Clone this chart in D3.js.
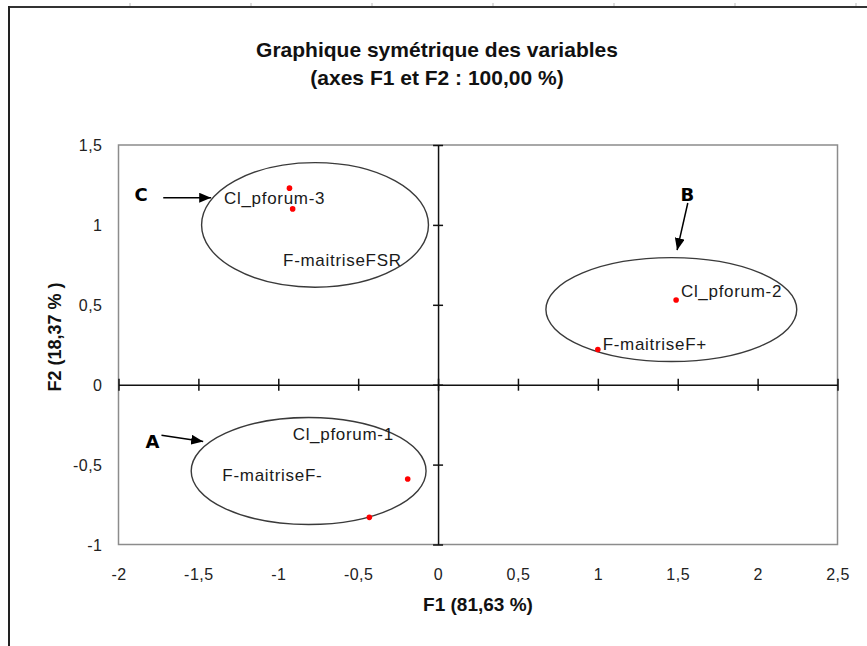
<!DOCTYPE html>
<html>
<head>
<meta charset="utf-8">
<script src="https://cdn.jsdelivr.net/npm/d3@7"></script>
<style>
  html, body { margin: 0; padding: 0; background: #fff; }
  svg { display: block; }
  text { font-family: "Liberation Sans", Arial, sans-serif; }
</style>
</head>
<body>
<svg id="chart" width="867" height="646"></svg>
<script>
// ---------------- data ----------------
const titleLines = ["Graphique symétrique des variables", "(axes F1 et F2 : 100,00 %)"];
const xAxisTitle = "F1 (81,63 %)";
const yAxisTitle = "F2 (18,37 % )";

const xTicks = [-2, -1.5, -1, -0.5, 0, 0.5, 1, 1.5, 2, 2.5];
const yTicks = [-1, -0.5, 0, 0.5, 1, 1.5];

// observed points (F1, F2)
const pointNames = ["Cl_pforum-3", "F-maitriseFSR", "Cl_pforum-2", "F-maitriseF+", "Cl_pforum-1", "F-maitriseF-"];
const pointF1 = [-0.93, -0.91, 1.49, 1.00, -0.19, -0.43];
const pointF2 = [1.23, 1.10, 0.53, 0.22, -0.59, -0.83];
// label anchors (F1, F2) as placed on the original chart
const labelF1 = [-1.34, -0.97, 1.52, 1.03, -0.91, -1.35];
const labelF2 = [1.13, 0.74, 0.55, 0.215, -0.345, -0.60];

// group ellipses (centre and semi-axes in F1/F2 units)
const groupNames = ["A", "B", "C"];
const groupCx = [-0.81, 1.46, -0.77];
const groupCy = [-0.54, 0.47, 1.00];
const groupRx = [0.735, 0.785, 0.71];
const groupRy = [0.335, 0.325, 0.39];
// group letter positions and arrows (F1/F2 units)
const letterF1 = [-1.787, 1.561, -1.859];
const letterF2 = [-0.355, 1.187, 1.187];
const arrowFromF1 = [-1.731, 1.563, -1.720];
const arrowFromF2 = [-0.317, 1.137, 1.170];
const arrowToF1 = [-1.470, 1.496, -1.420];
const arrowToF2 = [-0.355, 0.842, 1.170];

// ---------------- drawing ----------------
const svg = d3.select("#chart");
const plot = {left: 118.5, right: 837.5, top: 145, bottom: 544.5};

const x = d3.scaleLinear().domain([-2, 2.5]).range([plot.left, plot.right]);
const y = d3.scaleLinear().domain([-1, 1.5]).range([plot.bottom, plot.top]);
const fmt = d => String(d).replace(".", ",");

// spreadsheet frame remnants
svg.append("line").attr("x1", 9).attr("x2", 867).attr("y1", 7).attr("y2", 7)
  .attr("stroke", "#333").attr("stroke-width", 2);
svg.append("line").attr("x1", 9).attr("x2", 9).attr("y1", 6).attr("y2", 646)
  .attr("stroke", "#222").attr("stroke-width", 2);
svg.selectAll("line.grid").data(d3.range(130, 867, 121)).enter().append("line")
  .attr("class", "grid")
  .attr("x1", d => d).attr("x2", d => d).attr("y1", 3).attr("y2", 6)
  .attr("stroke", "#bbb").attr("stroke-width", 1);

// title
svg.append("text")
  .attr("x", 437).attr("y", 57)
  .attr("text-anchor", "middle")
  .style("font-size", "21px").style("font-weight", "bold").attr("fill", "#111")
  .selectAll("tspan").data(titleLines).enter().append("tspan")
  .attr("x", 437).attr("dy", (d, i) => i === 0 ? 0 : 28)
  .text(d => d);

// plot area border
svg.append("rect")
  .attr("x", plot.left).attr("y", plot.top)
  .attr("width", plot.right - plot.left).attr("height", plot.bottom - plot.top)
  .attr("fill", "none").attr("stroke", "#8c8c8c").attr("stroke-width", 1.5);

// central axes with crossing ticks
const xAxisG = svg.append("g").attr("transform", `translate(0,${y(0)})`)
  .call(d3.axisBottom(x).tickValues(xTicks).tickFormat("").tickSizeOuter(0).tickSizeInner(6));
xAxisG.select(".domain").attr("stroke", "#111").attr("stroke-width", 1.5);
xAxisG.selectAll(".tick line").attr("y1", -6).attr("y2", 6).attr("stroke", "#111").attr("stroke-width", 1.5);

const yAxisG = svg.append("g").attr("transform", `translate(${x(0)},0)`)
  .call(d3.axisLeft(y).tickValues(yTicks).tickFormat("").tickSizeOuter(0).tickSizeInner(5));
yAxisG.select(".domain").attr("stroke", "#111").attr("stroke-width", 1.5);
yAxisG.selectAll(".tick line").attr("x1", -5).attr("x2", 5).attr("stroke", "#111").attr("stroke-width", 1.5);

// tick labels at plot edges
const xLab = svg.append("g").attr("transform", `translate(0,${plot.bottom})`)
  .call(d3.axisBottom(x).tickValues(xTicks).tickFormat(fmt).tickSize(0));
xLab.select(".domain").remove();
xLab.selectAll("text").attr("y", 35).attr("dy", 0)
  .style("font-size", "16px").style("letter-spacing", "0.5px")
  .style("font-family", "'Liberation Sans', Arial, sans-serif").attr("fill", "#222");

const yLab = svg.append("g").attr("transform", `translate(${plot.left},0)`)
  .call(d3.axisLeft(y).tickValues(yTicks).tickFormat(fmt).tickSize(0));
yLab.select(".domain").remove();
yLab.selectAll("text").attr("x", -16).attr("dy", "0.36em")
  .style("font-size", "16px").style("letter-spacing", "0.5px")
  .style("font-family", "'Liberation Sans', Arial, sans-serif").attr("fill", "#222");

// axis titles
svg.append("text")
  .attr("x", (plot.left + plot.right) / 2).attr("y", 611)
  .attr("text-anchor", "middle")
  .style("font-size", "19px").style("font-weight", "bold").attr("fill", "#111")
  .text(xAxisTitle);
svg.append("text")
  .attr("transform", `translate(61,${337}) rotate(-90)`)
  .attr("text-anchor", "middle")
  .style("font-size", "18px").style("font-weight", "bold").attr("fill", "#111")
  .text(yAxisTitle);

// ellipses
const groups = groupNames.map((g, i) => ({
  name: g, cx: groupCx[i], cy: groupCy[i], rx: groupRx[i], ry: groupRy[i],
  lx: letterF1[i], ly: letterF2[i],
  ax1: arrowFromF1[i], ay1: arrowFromF2[i], ax2: arrowToF1[i], ay2: arrowToF2[i]
}));
svg.selectAll("ellipse.grp").data(groups).enter().append("ellipse")
  .attr("class", "grp")
  .attr("cx", d => x(d.cx)).attr("cy", d => y(d.cy))
  .attr("rx", d => x(d.rx) - x(0)).attr("ry", d => y(0) - y(d.ry))
  .attr("fill", "none").attr("stroke", "#3a3a3a").attr("stroke-width", 1.4);

// points
const pts = pointNames.map((n, i) => ({name: n, f1: pointF1[i], f2: pointF2[i], lf1: labelF1[i], lf2: labelF2[i]}));
svg.selectAll("text.lbl").data(pts).enter().append("text")
  .attr("class", "lbl")
  .attr("x", d => x(d.lf1)).attr("y", d => y(d.lf2))
  .style("font-size", "17px").style("letter-spacing", "0.7px").attr("fill", "#1a1a1a")
  .text(d => d.name);
svg.selectAll("circle.pt").data(pts).enter().append("circle")
  .attr("class", "pt")
  .attr("cx", d => x(d.f1)).attr("cy", d => y(d.f2)).attr("r", 2.8)
  .attr("fill", "#ff0000");

// arrows + letters
svg.append("defs").append("marker")
  .attr("id", "arrow").attr("viewBox", "0 0 12 10")
  .attr("refX", 12).attr("refY", 5)
  .attr("markerWidth", 12).attr("markerHeight", 10)
  .attr("markerUnits", "userSpaceOnUse").attr("orient", "auto")
  .append("path").attr("d", "M0,0 L12,5 L0,10 Z").attr("fill", "#000");

svg.selectAll("line.arr").data(groups).enter().append("line")
  .attr("class", "arr")
  .attr("x1", d => x(d.ax1)).attr("y1", d => y(d.ay1))
  .attr("x2", d => x(d.ax2)).attr("y2", d => y(d.ay2))
  .attr("stroke", "#000").attr("stroke-width", 1.5)
  .attr("marker-end", "url(#arrow)");

svg.selectAll("text.letter").data(groups).enter().append("text")
  .attr("class", "letter")
  .attr("x", d => x(d.lx)).attr("y", d => y(d.ly)).attr("dy", "0.36em")
  .attr("text-anchor", "middle")
  .style("font-size", "18px").style("font-weight", "bold").style("font-family", "'DejaVu Sans', sans-serif")
  .attr("fill", "#000")
  .text(d => d.name);
</script>
</body>
</html>
